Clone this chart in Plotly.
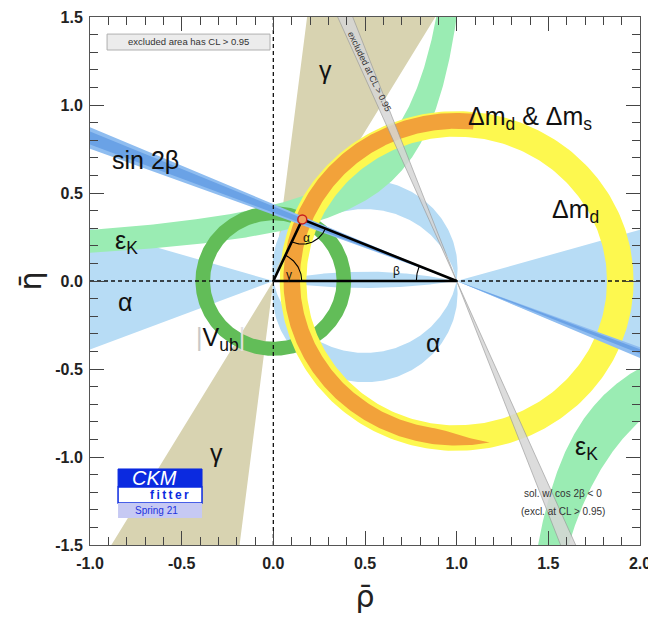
import numpy as np
import plotly.graph_objects as go

# apex of the unitarity triangle (rho-bar, eta-bar)
apex_rho = 0.158
apex_eta = 0.350

# constraint shapes (degrees, radii, curve parameters)
gamma_range = [59.5, 83.0]            # wedge through the origin
alpha_arc_range = [82.0, 101.5]       # inscribed angle, upper and lower crescents
alpha_left_edges = [16.7, -21.3]      # wedge from (0,0) towards negative rho
alpha_right_edges = [16.2, -23.3]     # wedge from (1,0) towards rho > 1
alpha_lens_sagitta = [0.053, -0.040]  # thin lens on the axis between 0 and 1
beta_outer = [20.6, 23.6]
beta_inner = [21.2, 23.0]
beta_excluded = [66.6, 69.3]          # cos 2beta < 0 solution
vub_radii = [0.345, 0.425]
dmd_radii = [0.82, 0.965]
dms_radii = [0.855, 0.945]
dms_arc = [84.0, 281.0]
dms_taper = 18.0
# eps_K upper branch edges: y = y0 + k / (x0 - x)
ek_low_edge = [1.209, 0.020, 0.309]
ek_up_edge = [1.143, 0.128, 0.348]
# eps_K lower branch: x0, k inner, k outer  (y = -k / (x - x0))
ek_lower_branch = [1.17, 0.41, 0.66]

x_ticks = [-1.0, -0.5, 0.0, 0.5, 1.0, 1.5, 2.0]
x_tick_text = ["-1.0", "-0.5", "0.0", "0.5", "1.0", "1.5", "2.0"]
y_ticks = [-1.5, -1.0, -0.5, 0.0, 0.5, 1.0, 1.5]
y_tick_text = ["-1.5", "-1.0", "-0.5", "0.0", "0.5", "1.0", "1.5"]

C_GAMMA = "#d8d3b1"
C_ALPHA = "#b7dcf5"
C_EK = "#9aecb3"
C_VUB = "#62bd58"
C_DMD = "#fdf84f"
C_DMS = "#f2a23a"
FONT = "Liberation Sans"

fig = go.Figure()


def add_poly(x, y, color, opacity=1.0, line=None):
    fig.add_trace(go.Scatter(
        x=list(x), y=list(y), mode="lines", fill="toself", fillcolor=color,
        opacity=opacity, hoverinfo="skip", showlegend=False,
        line=line if line else dict(width=0, color=color)))


def double_wedge(cx, cy, a1, a2, r=6.0):
    t1 = np.radians(np.linspace(a1, a2, 20))
    t2 = t1 + np.pi
    xs = [cx] + list(cx + r * np.cos(t1)) + [cx] + list(cx + r * np.cos(t2)) + [cx]
    ys = [cy] + list(cy + r * np.sin(t1)) + [cy] + list(cy + r * np.sin(t2)) + [cy]
    return xs, ys


def wedge(cx, cy, a1, a2, r=6.0):
    t = np.radians(np.linspace(a1, a2, 40))
    return [cx] + list(cx + r * np.cos(t)) + [cx], [cy] + list(cy + r * np.sin(t)) + [cy]


def chord_arc(c, n=160):
    # arc over the top of the circle through (0,0) and (1,0), centre (0.5, c)
    r = np.hypot(0.5, c)
    t0 = np.arctan2(-c, 0.5)
    t = np.linspace(t0, np.pi - t0, n)
    return 0.5 + r * np.cos(t), c + r * np.sin(t)


def annulus(cx, cy, r1, r2, a1=0.0, a2=360.0, taper=0.0):
    t = np.linspace(a1, a2, 300)
    rin = np.full_like(t, r1)
    if taper > 0:
        f = np.clip((t - (a2 - taper)) / taper, 0, 1)
        rin = r1 + (r2 - r1) * f ** 1.3
    tr = np.radians(t)
    xo, yo = cx + r2 * np.cos(tr), cy + r2 * np.sin(tr)
    xi, yi = cx + rin * np.cos(tr), cy + rin * np.sin(tr)
    return np.concatenate([xo, xi[::-1]]), np.concatenate([yo, yi[::-1]])


# gamma
gx, gy = double_wedge(0, 0, gamma_range[0], gamma_range[1])
add_poly(gx, gy, C_GAMMA)

# alpha
ax, ay = wedge(0, 0, 180 - alpha_left_edges[0], 180 - alpha_left_edges[1])
add_poly(ax, ay, C_ALPHA)
ax, ay = wedge(1, 0, alpha_right_edges[1], alpha_right_edges[0])
add_poly(ax, ay, C_ALPHA)
c1 = 0.5 / np.tan(np.radians(alpha_arc_range[0]))
c2 = 0.5 / np.tan(np.radians(alpha_arc_range[1]))
xo, yo = chord_arc(c1)
xi, yi = chord_arc(c2)
for sgn in (1, -1):
    add_poly(np.concatenate([xo, xi[::-1]]), sgn * np.concatenate([yo, yi[::-1]]), C_ALPHA)
s_up, s_dn = alpha_lens_sagitta
cu = (s_up ** 2 - 0.25) / (2 * s_up)
cd = (s_dn ** 2 - 0.25) / (2 * abs(s_dn))
xu, yu = chord_arc(cu)
xd, yd = chord_arc(cd)
add_poly(np.concatenate([xu, xd[::-1]]), np.concatenate([yu, -yd[::-1]]), C_ALPHA)

# eps_K upper branch
def ek_edge(p, top=1.55, left=-1.05):
    x0, y0, k = p
    d = np.geomspace(x0 - left, k / (top - y0), 300)
    return x0 - d, y0 + k / d


xl, yl = ek_edge(ek_low_edge)
xu2, yu2 = ek_edge(ek_up_edge)
add_poly(np.concatenate([xl, xu2[::-1]]), np.concatenate([yl, yu2[::-1]]), C_EK)
# eps_K lower branch
x0b, k_in, k_out = ek_lower_branch
d_in = np.geomspace(k_in / 1.55, 2.05 - x0b, 200)
d_out = np.geomspace(k_out / 1.55, 2.05 - x0b, 200)
add_poly(np.concatenate([x0b + d_in, (x0b + d_out)[::-1]]),
         np.concatenate([-k_in / d_in, (-k_out / d_out)[::-1]]), C_EK)

# |Vub|
vx, vy = annulus(0, 0, vub_radii[0], vub_radii[1])
add_poly(vx, vy, C_VUB)

# Delta m_d, Delta m_d & Delta m_s
dx, dy = annulus(1, 0, dmd_radii[0], dmd_radii[1])
add_poly(dx, dy, C_DMD)
sx, sy = annulus(1, 0.01, dms_radii[0], dms_radii[1], dms_arc[0], dms_arc[1], dms_taper)
add_poly(sx, sy, C_DMS)

# sin 2beta
bx, by = double_wedge(1, 0, 180 - beta_outer[1], 180 - beta_outer[0])
add_poly(bx, by, "#8fbdf0")
bx, by = double_wedge(1, 0, 180 - beta_inner[1], 180 - beta_inner[0])
add_poly(bx, by, "#6aa2e6")

# excluded cos 2beta < 0 solution
ex, ey = double_wedge(1, 0, 180 - beta_excluded[1], 180 - beta_excluded[0])
add_poly(ex, ey, "#d6d6d6", opacity=0.85, line=dict(width=0.8, color="#9a9a9a"))

# dashed axes through zero
fig.add_trace(go.Scatter(x=[-1, 2], y=[0, 0], mode="lines", hoverinfo="skip", showlegend=False,
                         line=dict(color="#111", width=1.3, dash="4px,3px")))
fig.add_trace(go.Scatter(x=[0, 0], y=[-1.5, 1.5], mode="lines", hoverinfo="skip", showlegend=False,
                         line=dict(color="#111", width=1.3, dash="4px,3px")))

# unitarity triangle
fig.add_trace(go.Scatter(x=[0, apex_rho, 1, 0], y=[0, apex_eta, 0, 0], mode="lines",
                         hoverinfo="skip", showlegend=False, line=dict(color="black", width=2.6)))

# angle arcs
asp = 183.3 / 176.0
g_ang = np.degrees(np.arctan2(apex_eta, apex_rho))
a_to0 = np.degrees(np.arctan2(-apex_eta, -apex_rho))
a_to1 = np.degrees(np.arctan2(-apex_eta, 1 - apex_rho))
b_ang = 180 - np.degrees(np.arctan2(apex_eta, 1 - apex_rho))
for (cx, cy, t1, t2, r) in [(0, 0, 0, g_ang, 0.155),
                            (apex_rho, apex_eta, a_to0, a_to1, 0.135),
                            (1, 0, b_ang, 180, 0.22)]:
    t = np.radians(np.linspace(t1, t2, 40))
    fig.add_trace(go.Scatter(x=cx + r * np.cos(t), y=cy + r * asp * np.sin(t), mode="lines",
                             hoverinfo="skip", showlegend=False,
                             line=dict(color="black", width=1.1)))

fig.add_trace(go.Scatter(x=[apex_rho], y=[apex_eta], mode="markers", hoverinfo="skip",
                         showlegend=False,
                         marker=dict(size=9, color="#f3a15a", line=dict(color="#c81e1e", width=1.5))))


def label(x, y, text, size=25, color="#111", **kw):
    fig.add_annotation(x=x, y=y, text=text, showarrow=False,
                       font=dict(family=FONT, size=size, color=color), **kw)


label(0.285, 1.20, "γ")
label(-0.70, 0.69, "sin 2β")
label(-0.80, 0.22, "ε<sub>K</sub>")
label(-0.81, -0.12, "α")
label(-0.29, -0.33, "<span style='color:#c8c8c8'>|</span>V<sub>ub</sub><span style='color:#e2e2e2'>|</span>")
label(-0.31, -0.98, "γ")
label(0.87, -0.35, "α")
label(1.40, 0.925, "Δm<sub>d</sub> &amp; Δm<sub>s</sub>")
label(1.65, 0.40, "Δm<sub>d</sub>")
label(1.71, -0.95, "ε<sub>K</sub>")
label(0.182, 0.243, "α", size=12)
label(0.085, 0.036, "γ", size=12)
label(0.673, 0.055, "β", size=12)
label(1.58, -1.205, "sol. w/ cos 2β &lt; 0", size=10, color="#333")
label(1.58, -1.31, "(excl. at CL &gt; 0.95)", size=10, color="#333")
label(0.527, 1.19, "excluded at CL &gt; 0.95", size=9, color="#333", textangle=64)

# note box
fig.add_shape(type="rect", x0=-0.907, x1=-0.018, y0=1.3125, y1=1.403,
              fillcolor="#ececec", line=dict(color="#b0b0b0", width=1))
label(-0.462, 1.358, "excluded area has CL &gt; 0.95", size=9.5, color="#333")

# CKMfitter logo
fig.add_shape(type="rect", x0=-0.847, x1=-0.389, y0=-1.17, y1=-1.068,
              fillcolor="#0b2ae0", line=dict(color="#0b2ae0", width=1))
fig.add_shape(type="rect", x0=-0.847, x1=-0.389, y0=-1.261, y1=-1.17,
              fillcolor="white", line=dict(color="#0b2ae0", width=1.5))
fig.add_shape(type="rect", x0=-0.847, x1=-0.389, y0=-1.347, y1=-1.261,
              fillcolor="#c6c9f3", line=dict(width=0))
label(-0.65, -1.12, "<i>CKM</i>", size=20, color="white")
label(-0.565, -1.215, "<b>f\u2009i\u2009t\u2009t\u2009e\u2009r</b>", size=12, color="#0b2ae0")
label(-0.64, -1.305, "Spring 21", size=10, color="#2233dd")

axis_common = dict(showgrid=False, zeroline=False, showline=True, linecolor="#555", linewidth=1,
                   mirror="ticks", ticks="inside", ticklen=14, tickwidth=1, tickcolor="#444",
                   automargin=False,
                   tickfont=dict(family=FONT, size=16, color="#222", weight="bold"))
# the page body adds ~8px on the top/left, so the figure is drawn 8px smaller
fig.update_layout(
    width=648, height=612,
    margin=dict(l=82, r=16, t=9, b=75),
    plot_bgcolor="white", paper_bgcolor="white",
    xaxis=dict(range=[-1, 2], tickvals=x_ticks, ticktext=x_tick_text, ticklabelstandoff=4,
               minor=dict(dtick=0.1, tick0=0, ticks="inside", ticklen=8, tickcolor="#444"),
               title=dict(text="ρ̄", font=dict(family="DejaVu Sans", size=30, color="#222"),
                          standoff=14),
               **axis_common),
    yaxis=dict(range=[-1.5, 1.5], tickvals=y_ticks, ticktext=y_tick_text, ticklabelstandoff=3,
               minor=dict(dtick=0.1, tick0=0, ticks="inside", ticklen=8, tickcolor="#444"),
               title=dict(text="η̄", font=dict(family="DejaVu Sans", size=30, color="#222"),
                          standoff=4),
               **axis_common),
)

fig.write_html("out.html")
